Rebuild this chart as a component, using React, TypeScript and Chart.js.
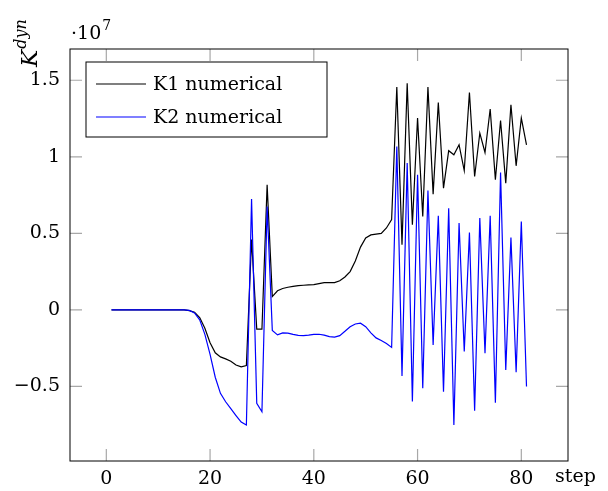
import React, { useEffect, useRef } from "react";
import { Chart, registerables } from "chart.js";

Chart.register(...registerables);

// x categories: simulation steps 1..81
const STEPS: number[] = Array.from({ length: 81 }, (_, i) => i + 1);

// values in units of 10^7
const K1_NUMERICAL: number[] = [
  0, 0, 0, 0, 0, 0, 0, 0, 0, 0,
  0, 0, 0, 0, 0, -0.005, -0.015, -0.05, -0.12, -0.215,
  -0.28, -0.307, -0.32, -0.335, -0.36, -0.372, -0.363, 0.46, -0.126, -0.126,
  0.817, 0.087, 0.125, 0.14, 0.148, 0.153, 0.158, 0.161, 0.163, 0.165,
  0.172, 0.178, 0.178, 0.178, 0.19, 0.215, 0.25, 0.32, 0.41, 0.47,
  0.49, 0.495, 0.5, 0.535, 0.59, 1.456, 0.425, 1.48, 0.556, 1.253,
  0.61, 1.456, 0.756, 1.355, 0.795, 1.04, 1.013, 1.078, 0.91, 1.42,
  0.871, 1.155, 1.028, 1.312, 0.85, 1.237, 0.828, 1.34, 0.941, 1.253,
  1.078,
];

const K2_NUMERICAL: number[] = [
  0, 0, 0, 0, 0, 0, 0, 0, 0, 0,
  0, 0, 0, 0, 0, -0.003, -0.02, -0.065, -0.16, -0.29,
  -0.44, -0.545, -0.6, -0.645, -0.69, -0.733, -0.752, 0.724, -0.61, -0.665,
  0.675, -0.135, -0.163, -0.15, -0.152, -0.16, -0.166, -0.168, -0.165, -0.16,
  -0.159, -0.165, -0.175, -0.178, -0.168, -0.14, -0.11, -0.092, -0.087, -0.11,
  -0.15, -0.183, -0.2, -0.22, -0.245, 1.067, -0.431, 0.959, -0.599, 0.882,
  -0.512, 0.78, -0.229, 0.614, -0.534, 0.664, -0.752, 0.567, -0.272, 0.505,
  -0.658, 0.6, -0.283, 0.614, -0.606, 0.897, -0.392, 0.473, -0.407, 0.577,
  -0.501,
];

const SERIES_LABELS: string[] = ["K1 numerical", "K2 numerical"];
const SERIES_COLORS: string[] = ["#000000", "#0000ff"];
const X_TICKS: number[] = [0, 20, 40, 60, 80];
const Y_TICKS: number[] = [-0.5, 0, 0.5, 1, 1.5];

const FONT_FAMILY = '"DejaVu Serif", "Liberation Serif", serif';
const FONT_SIZE = 19;

const fmtY = (v: number): string => {
  if (v === 0) return "0";
  if (v < 0) return "\u2212" + String(Math.abs(v));
  return String(v);
};

const decorPlugin = {
  id: "decor",
  beforeDatasetsDraw(chart: any) {
    const { ctx, chartArea: a, scales } = chart;
    const xs = scales.x;
    const ys = scales.y;
    const TL = 12;
    ctx.save();
    ctx.strokeStyle = "#a8a8a8";
    ctx.lineWidth = 1.2;
    ctx.beginPath();
    for (const v of X_TICKS) {
      const px = xs.getPixelForValue(v);
      ctx.moveTo(px, a.bottom);
      ctx.lineTo(px, a.bottom - TL);
      ctx.moveTo(px, a.top);
      ctx.lineTo(px, a.top + TL);
    }
    for (const v of Y_TICKS) {
      const py = ys.getPixelForValue(v);
      ctx.moveTo(a.left, py);
      ctx.lineTo(a.left + TL, py);
      ctx.moveTo(a.right, py);
      ctx.lineTo(a.right - TL, py);
    }
    ctx.stroke();
    ctx.restore();
  },
  afterDatasetsDraw(chart: any) {
    const { ctx, chartArea: a } = chart;
    ctx.save();
    // frame
    ctx.strokeStyle = "#000";
    ctx.lineWidth = 1;
    ctx.strokeRect(a.left, a.top, a.right - a.left, a.bottom - a.top);

    // legend
    ctx.font = `${FONT_SIZE}px ${FONT_FAMILY}`;
    const lx = 86;
    const ly = 62;
    const lh = 75;
    const lw = 241;
    const textX = 153;
    ctx.fillStyle = "#fff";
    ctx.fillRect(lx, ly, lw, lh);
    ctx.strokeStyle = "#000";
    ctx.lineWidth = 1;
    ctx.strokeRect(lx, ly, lw, lh);
    const rowsY = [84, 117];
    SERIES_LABELS.forEach((label, i) => {
      ctx.strokeStyle = SERIES_COLORS[i];
      ctx.lineWidth = 1.2;
      ctx.beginPath();
      ctx.moveTo(96, rowsY[i]);
      ctx.lineTo(146, rowsY[i]);
      ctx.stroke();
      ctx.fillStyle = "#000";
      ctx.textBaseline = "middle";
      ctx.textAlign = "left";
      ctx.fillText(label, textX, rowsY[i] + 1);
    });

    // scale factor ·10^7
    ctx.textBaseline = "alphabetic";
    ctx.font = `${FONT_SIZE}px ${FONT_FAMILY}`;
    ctx.fillText("\u00b710", 71, 39);
    const w10 = ctx.measureText("\u00b710").width;
    ctx.font = `14px ${FONT_FAMILY}`;
    ctx.fillText("7", 71 + w10 + 1, 30);

    // x label "step"
    ctx.font = `${FONT_SIZE}px ${FONT_FAMILY}`;
    ctx.textBaseline = "top";
    ctx.fillText("step", 555, 468);

    // y label K^{dyn}
    ctx.translate(37, 67);
    ctx.rotate(-Math.PI / 2);
    ctx.textBaseline = "alphabetic";
    ctx.font = `italic 23px ${FONT_FAMILY}`;
    ctx.fillText("K", 0, 0);
    const wk = ctx.measureText("K").width;
    ctx.font = `italic 16px ${FONT_FAMILY}`;
    ctx.fillText("dyn", wk + 1, -11);
    ctx.restore();
  },
};

export default function App() {
  const canvasRef = useRef<HTMLCanvasElement | null>(null);

  useEffect(() => {
    const canvas = canvasRef.current;
    if (!canvas) return;
    const font = { family: FONT_FAMILY, size: FONT_SIZE };
    const chart = new Chart(canvas, {
      type: "line",
      data: {
        datasets: [
          {
            label: SERIES_LABELS[0],
            data: STEPS.map((s, i) => ({ x: s, y: K1_NUMERICAL[i] })),
            borderColor: SERIES_COLORS[0],
            backgroundColor: SERIES_COLORS[0],
            borderWidth: 1.2,
            pointRadius: 0,
            tension: 0,
            order: 2,
          },
          {
            label: SERIES_LABELS[1],
            data: STEPS.map((s, i) => ({ x: s, y: K2_NUMERICAL[i] })),
            borderColor: SERIES_COLORS[1],
            backgroundColor: SERIES_COLORS[1],
            borderWidth: 1.2,
            pointRadius: 0,
            tension: 0,
            order: 1,
          },
        ],
      },
      options: {
        animation: false,
        responsive: false,
        maintainAspectRatio: false,
        devicePixelRatio: 1,
        layout: { padding: { top: 49, right: 40, left: 0, bottom: 0 } },
        plugins: {
          legend: { display: false },
          tooltip: { enabled: false },
        },
        scales: {
          x: {
            type: "linear",
            min: -7,
            max: 89,
            afterBuildTicks: (s: any) => {
              s.ticks = X_TICKS.map((v) => ({ value: v }));
            },
            afterFit: (s: any) => {
              s.height = 30;
            },
            grid: { display: false, drawTicks: false },
            border: { display: false },
            ticks: {
              font,
              color: "#000",
              padding: 7,
              maxRotation: 0,
              autoSkip: false,
              callback: (v: any) => String(v),
            },
          },
          y: {
            type: "linear",
            min: -0.987,
            max: 1.704,
            afterBuildTicks: (s: any) => {
              s.ticks = Y_TICKS.map((v) => ({ value: v }));
            },
            afterFit: (s: any) => {
              s.width = 70;
            },
            grid: { display: false, drawTicks: false },
            border: { display: false },
            ticks: {
              font,
              color: "#000",
              padding: 10,
              autoSkip: false,
              callback: (v: any) => fmtY(Number(v)),
            },
          },
        },
      },
      plugins: [decorPlugin],
    });
    return () => chart.destroy();
  }, []);

  return (
    <div style={{ position: "absolute", left: 0, top: 0, width: 608, height: 491, background: "#fff" }}>
      <canvas ref={canvasRef} width={608} height={491} style={{ width: 608, height: 491, display: "block" }} />
    </div>
  );
}
